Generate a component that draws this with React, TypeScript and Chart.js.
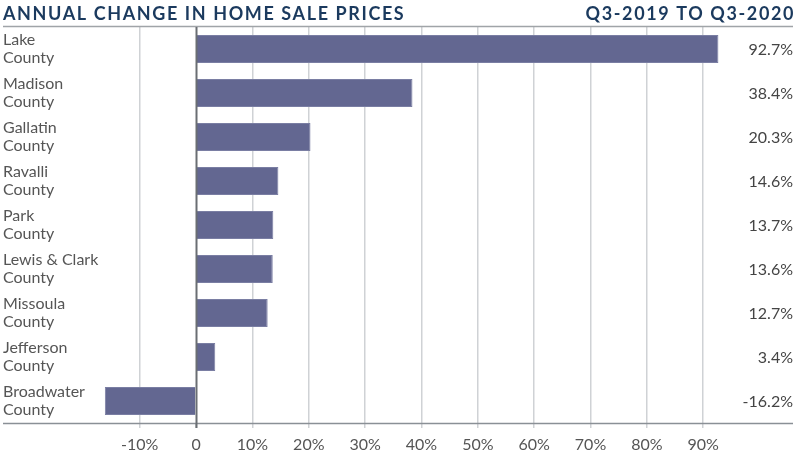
import React, { useEffect, useRef } from "react";
import { Chart, registerables } from "chart.js";

Chart.register(...registerables);

const TITLE_LEFT = "ANNUAL CHANGE IN HOME SALE PRICES";
const TITLE_RIGHT = "Q3-2019 TO Q3-2020";
const categories: string[][] = [
  ["Lake", "County"],
  ["Madison", "County"],
  ["Gallatin", "County"],
  ["Ravalli", "County"],
  ["Park", "County"],
  ["Lewis & Clark", "County"],
  ["Missoula", "County"],
  ["Jefferson", "County"],
  ["Broadwater", "County"],
];
const values: number[] = [92.7, 38.4, 20.3, 14.6, 13.7, 13.6, 12.7, 3.4, -16.2];
const tickValues: number[] = [-10, 0, 10, 20, 30, 40, 50, 60, 70, 80, 90];

const FONT = "Lato, 'Noto Sans', sans-serif";
const Y_AXIS_WIDTH = 91.7;

const decorPlugin = {
  id: "decor",
  afterDraw(chart: any) {
    const ctx = chart.ctx as CanvasRenderingContext2D;
    const area = chart.chartArea;
    ctx.save();
    // titles
    ctx.fillStyle = "#1b3a5e";
    ctx.font = `bold 18px ${FONT}`;
    (ctx as any).letterSpacing = "1.6px";
    ctx.textBaseline = "alphabetic";
    ctx.textAlign = "left";
    ctx.fillText(TITLE_LEFT, 3, 20);
    ctx.textAlign = "right";
    ctx.fillText(TITLE_RIGHT, 795, 20);
    (ctx as any).letterSpacing = "0px";
    // top line
    ctx.strokeStyle = "#a0a4a8";
    ctx.lineWidth = 1.5;
    ctx.beginPath();
    ctx.moveTo(3, 26.5);
    ctx.lineTo(793, 26.5);
    ctx.stroke();
    // bottom line
    ctx.strokeStyle = "#8a9096";
    ctx.beginPath();
    ctx.moveTo(3, area.bottom + 0.5);
    ctx.lineTo(793, area.bottom + 0.5);
    ctx.stroke();
    // zero line
    const xs = chart.scales.x;
    const x0 = Math.round(xs.getPixelForValue(0)) + 0.5;
    ctx.strokeStyle = "#6a6e73";
    ctx.lineWidth = 2;
    ctx.beginPath();
    ctx.moveTo(x0, area.top);
    ctx.lineTo(x0, area.bottom + 5);
    ctx.stroke();
    // value labels
    const meta = chart.getDatasetMeta(0);
    ctx.fillStyle = "#444";
    ctx.font = `16px ${FONT}`;
    ctx.textAlign = "right";
    ctx.textBaseline = "middle";
    meta.data.forEach((bar: any, i: number) => {
      ctx.fillText(`${values[i].toFixed(1)}%`, 793, bar.y + 1);
    });
    ctx.restore();
  },
};

export default function App() {
  const ref = useRef<HTMLCanvasElement | null>(null);
  useEffect(() => {
    if (!ref.current) return;
    const chart = new Chart(ref.current, {
      type: "bar",
      data: {
        labels: categories,
        datasets: [
          {
            data: values,
            backgroundColor: "#636791",
            borderColor: "#7a7ea3",
            borderWidth: 1,
            barPercentage: 0.64,
            categoryPercentage: 1,
          },
        ],
      },
      options: {
        indexAxis: "y",
        animation: false,
        responsive: false,
        layout: { padding: { top: 27, left: 3, right: 63, bottom: 0 } },
        plugins: { legend: { display: false }, tooltip: { enabled: false }, title: { display: false } },
        scales: {
          x: {
            min: -18,
            max: 96,
            afterBuildTicks: (axis: any) => {
              axis.ticks = tickValues.map((v) => ({ value: v }));
            },
            afterFit: (axis: any) => {
              axis.height = 41;
            },
            border: { display: false },
            grid: {
              color: (c: any) => (c.tick && c.tick.value === 0 ? "rgba(0,0,0,0)" : "#cfd2d5"),
              lineWidth: 1.5,
              drawTicks: true,
              tickLength: 5,
              tickColor: "#cfd2d5",
            },
            ticks: {
              color: "#555",
              font: { family: FONT, size: 16 },
              padding: 7,
              maxRotation: 0,
              callback: (v: any) => (v === 0 ? "0" : `${v}%`),
            },
          },
          y: {
            afterFit: (axis: any) => {
              axis.width = Y_AXIS_WIDTH;
            },
            border: { display: false },
            grid: { display: false },
            ticks: {
              mirror: true,
              padding: -Y_AXIS_WIDTH,
              color: "#555",
              font: { family: FONT, size: 16, lineHeight: 1.1 },
            },
          },
        },
      },
      plugins: [decorPlugin],
    });
    return () => chart.destroy();
  }, []);
  return (
    <div style={{ position: "absolute", left: 0, top: 0, width: 800, height: 464, background: "#fff" }}>
      <canvas ref={ref} width={800} height={464} style={{ width: 800, height: 464 }} />
    </div>
  );
}
